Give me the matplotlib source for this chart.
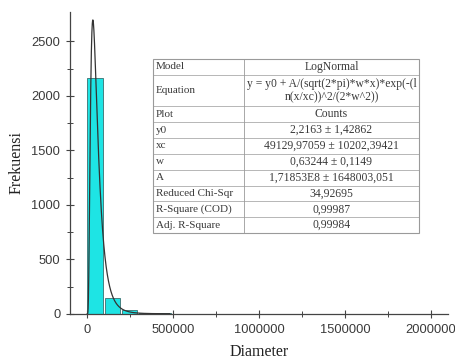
import matplotlib
matplotlib.use("Agg")
import matplotlib.pyplot as plt
import numpy as np

# histogram bins (left edges) and counts
bin_left = [0, 105000, 200000, 300000, 400000]
bin_width = [92000, 85000, 90000, 90000, 90000]
counts = [2165, 148, 33, 11, 5]

# LogNormal fit parameters as printed in the table
y0 = 2.2163
xc = 49129.97059
w = 0.63244
A = 1.71853e8

table_rows = [
    ["Model", "LogNormal"],
    ["Equation", "y = y0 + A/(sqrt(2*pi)*w*x)*exp(-(l\nn(x/xc))^2/(2*w^2))"],
    ["Plot", "Counts"],
    ["y0", "2,2163 \u00b1 1,42862"],
    ["xc", "49129,97059 \u00b1 10202,39421"],
    ["w", "0,63244 \u00b1 0,1149"],
    ["A", "1,71853E8 \u00b1 1648003,051"],
    ["Reduced Chi-Sqr", "34,92695"],
    ["R-Square (COD)", "0,99987"],
    ["Adj. R-Square", "0,99984"],
]

serif = ["Liberation Serif", "DejaVu Serif"]
sans = ["Liberation Sans", "DejaVu Sans"]

fig = plt.figure(figsize=(4.56, 3.62), dpi=100)
ax = fig.add_axes([70 / 456, 1 - 314 / 362, 378 / 456, 302 / 362])

ax.bar(bin_left, counts, width=bin_width, align="edge",
       color="#1ee4e4", edgecolor="#3a6f6f", linewidth=0.6, zorder=2)

xs = np.linspace(500, 480000, 3000)
ys = y0 + A / (np.sqrt(2 * np.pi) * w * xs) * np.exp(-(np.log(xs / xc)) ** 2 / (2 * w ** 2))
ax.plot(xs, ys, color="#333333", lw=0.9, zorder=3)

ax.set_xlim(-100000, 2100000)
ax.set_ylim(0, 2770)
ax.set_xticks([0, 500000, 1000000, 1500000, 2000000])
ax.set_xticks([250000, 750000, 1250000, 1750000], minor=True)
ax.set_yticks([0, 500, 1000, 1500, 2000, 2500])
ax.set_yticks([250, 750, 1250, 1750, 2250], minor=True)
ax.xaxis.set_major_formatter(matplotlib.ticker.FormatStrFormatter("%d"))

for s in ["top", "right"]:
    ax.spines[s].set_visible(False)
for s in ["left", "bottom"]:
    ax.spines[s].set_color("#444444")
    ax.spines[s].set_linewidth(0.9)
ax.tick_params(which="major", direction="inout", length=6, width=0.8,
               colors="#444444", labelcolor="#3a3a3a", labelsize=9.3, pad=4)
ax.tick_params(which="minor", direction="inout", length=4, width=0.7, colors="#444444")
for lab in ax.get_xticklabels() + ax.get_yticklabels():
    lab.set_family(sans)

ax.set_xlabel("Diameter", family=serif, fontsize=11.5, color="#222222", labelpad=6)
ax.set_ylabel("Frekuensi", family=serif, fontsize=11.5, color="#222222", labelpad=5)

# fit result table
tx0, tx1, tx2 = 153, 244, 419
ty_top, ty_bot = 59, 233
unit = (ty_bot - ty_top) / 11
edge = "#9a9a9a"
y = ty_top
def fx(px):
    return px / 456
def fy(py):
    return 1 - py / 362
fig.patches.append(plt.Rectangle((fx(tx0), fy(ty_bot)), fx(tx2) - fx(tx0), fy(ty_top) - fy(ty_bot),
                                 transform=fig.transFigure, facecolor="white",
                                 edgecolor=edge, lw=0.8, zorder=5))
fig.lines.append(plt.Line2D([fx(tx1), fx(tx1)], [fy(ty_top), fy(ty_bot)],
                            transform=fig.transFigure, color=edge, lw=0.6, zorder=6))
for i, (name, val) in enumerate(table_rows):
    h = unit * (2 if i == 1 else 1)
    yc = y + h / 2
    fig.text(fx(tx0 + 3), fy(yc), name, family=serif, fontsize=8, color="#3a3a3a",
             ha="left", va="center", zorder=7)
    fig.text(fx((tx1 + tx2) / 2), fy(yc), val, family=serif, fontsize=8.4, color="#3a3a3a",
             ha="center", va="center", linespacing=1.2, zorder=7)
    y += h
    if i < len(table_rows) - 1:
        fig.lines.append(plt.Line2D([fx(tx0), fx(tx2)], [fy(y), fy(y)],
                                    transform=fig.transFigure, color=edge, lw=0.5, zorder=6))

fig.savefig("out.png", dpi=100)
